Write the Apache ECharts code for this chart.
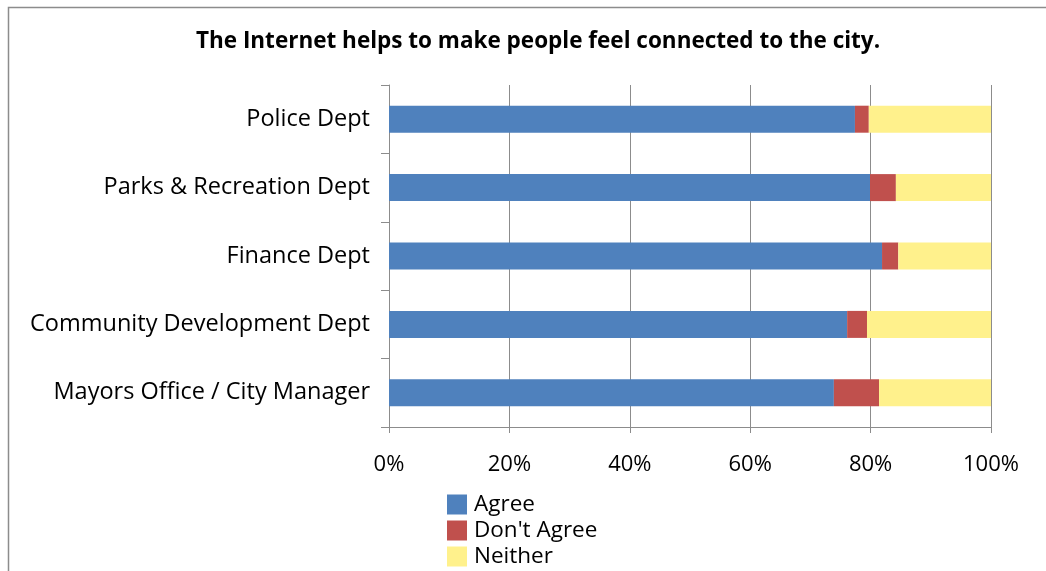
<!DOCTYPE html>
<html>
<head>
<meta charset="utf-8">
<script src="https://cdn.jsdelivr.net/npm/echarts@6/dist/echarts.min.js"></script>
<style>
  html, body { margin: 0; padding: 0; background: #fff; }
  #chart { width: 1046px; height: 571px; }
</style>
</head>
<body>
<div id="chart"></div>
<script>
// Departments, top to bottom
const departments = [
  'Police Dept',
  'Parks & Recreation Dept',
  'Finance Dept',
  'Community Development Dept',
  'Mayors Office / City Manager'
];
// Share of responses per department (percent)
const agree      = [77.4, 79.9, 81.9, 76.1, 73.9];
const dontAgree  = [2.3, 4.3, 2.7, 3.3, 7.5];
const neither    = [20.3, 15.8, 15.4, 20.6, 18.6];
const seriesNames = ['Agree', "Don't Agree", 'Neither'];

const FONT = '"Open Sans", "Noto Sans", sans-serif';
const colors = ['#4F81BD', '#C0504D', '#FFF18C'];
const valueSets = [agree, dontAgree, neither];

const chart = echarts.init(document.getElementById('chart'));
chart.setOption({
  animation: false,
  title: {
    text: 'The Internet helps to make people feel connected to the city.',
    left: 533,
    textAlign: 'center',
    top: 25,
    textStyle: { fontFamily: FONT, fontSize: 22.5, fontWeight: 'bold', color: '#000' }
  },
  graphic: [{
    type: 'rect',
    shape: { x: 8.5, y: 7.5, width: 1100, height: 700 },
    style: { fill: 'none', stroke: '#8c8c8c', lineWidth: 1.5 },
    silent: true
  }],
  legend: {
    orient: 'vertical',
    left: 447,
    top: 493,
    height: 90,
    padding: 0,
    itemWidth: 20,
    itemHeight: 20,
    itemGap: 3,
    icon: 'rect',
    data: seriesNames,
    textStyle: { fontFamily: FONT, fontSize: 22.5, lineHeight: 22, color: '#000', padding: [0, 0, 0, 2] }
  },
  grid: { left: 389, right: 55, top: 85, bottom: 144, containLabel: false },
  xAxis: {
    type: 'value',
    min: 0,
    max: 100,
    interval: 20,
    axisLine: { show: true, lineStyle: { color: '#8c8c8c', width: 1 } },
    axisTick: { show: true, length: 6, lineStyle: { color: '#8c8c8c' } },
    axisLabel: {
      formatter: '{value}%',
      margin: 27,
      fontFamily: FONT, fontSize: 22, color: '#000'
    },
    splitLine: { show: true, lineStyle: { color: '#8c8c8c', width: 1 } }
  },
  yAxis: {
    type: 'category',
    inverse: true,
    data: departments,
    axisLine: { show: true, lineStyle: { color: '#8c8c8c', width: 1 } },
    axisTick: { show: true, length: 8, lineStyle: { color: '#8c8c8c' } },
    axisLabel: { margin: 19, fontFamily: FONT, fontSize: 23.5, color: '#000' }
  },
  series: seriesNames.map((name, i) => ({
    name,
    type: 'bar',
    stack: 'total',
    barWidth: 27,
    itemStyle: { color: colors[i] },
    data: valueSets[i]
  }))
});
</script>
</body>
</html>
